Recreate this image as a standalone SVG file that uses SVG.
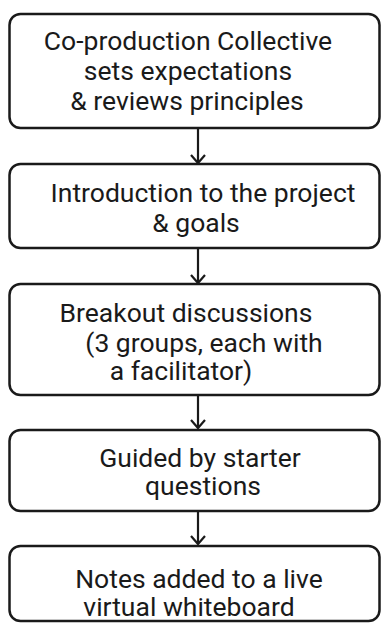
<svg xmlns="http://www.w3.org/2000/svg" width="382" height="623" viewBox="0 0 382 623">
<style>
.box{fill:#fff;stroke:#1a1a1a;stroke-width:2.5}
.t{font-family:Roboto,"Noto Sans",sans-serif;font-size:26.5px;fill:#1a1a1a;text-anchor:middle}
.c{stroke:#1a1a1a;stroke-width:2.2;fill:none}
</style>
<rect width="382" height="623" fill="#fff"/>
<g id="connectors">
<line class="c" x1="198" y1="128" x2="198" y2="163"/>
<path class="c" d="M191,155 L198,163 L205,155"/>
<line class="c" x1="198" y1="248" x2="198" y2="283"/>
<path class="c" d="M191,275 L198,283 L205,275"/>
<line class="c" x1="198" y1="395" x2="198" y2="428"/>
<path class="c" d="M191,420 L198,428 L205,420"/>
<line class="c" x1="198" y1="511" x2="198" y2="544"/>
<path class="c" d="M191,536 L198,544 L205,536"/>
</g>
<g id="n1">
<rect class="box" x="9.5" y="14" width="370" height="114" rx="11"/>
<text class="t" x="188" y="50">Co-production Collective</text>
<text class="t" x="188" y="80">sets expectations</text>
<text class="t" x="187" y="110">&amp; reviews principles</text>
</g>
<g id="n2">
<rect class="box" x="9.5" y="164" width="370" height="84" rx="11"/>
<text class="t" x="203" y="202">Introduction to the project</text>
<text class="t" x="196" y="232">&amp; goals</text>
</g>
<g id="n3">
<rect class="box" x="9.5" y="284" width="370" height="111" rx="11"/>
<text class="t" x="186" y="322">Breakout discussions</text>
<text class="t" x="204" y="352">(3 groups, each with</text>
<text class="t" x="181" y="380">a facilitator)</text>
</g>
<g id="n4">
<rect class="box" x="9.5" y="430" width="370" height="81" rx="11"/>
<text class="t" x="200" y="467">Guided by starter</text>
<text class="t" x="203" y="495">questions</text>
</g>
<g id="n5">
<rect class="box" x="9.5" y="546" width="370" height="75" rx="11"/>
<text class="t" x="199" y="588">Notes added to a live</text>
<text class="t" x="189" y="616">virtual whiteboard</text>
</g>
</svg>
